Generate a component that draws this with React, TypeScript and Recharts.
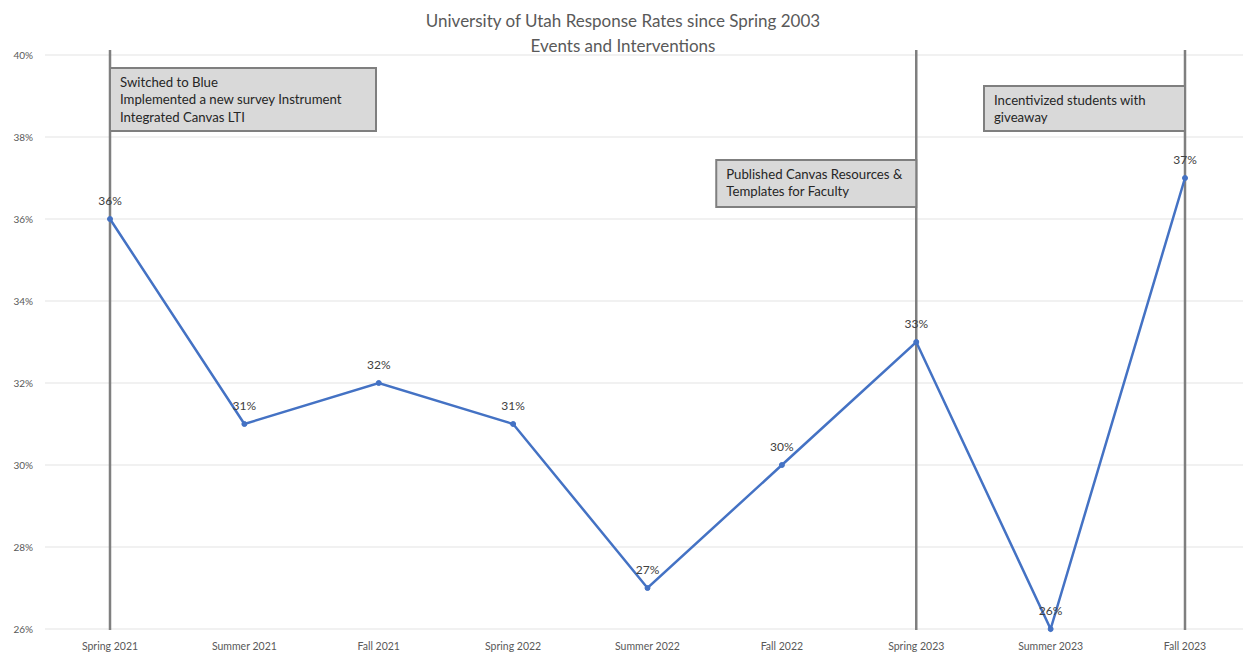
import React from 'react';
import {
  LineChart,
  Line,
  XAxis,
  YAxis,
  CartesianGrid,
  ReferenceLine,
  LabelList,
} from 'recharts';

const terms = [
  'Spring 2021',
  'Summer 2021',
  'Fall 2021',
  'Spring 2022',
  'Summer 2022',
  'Fall 2022',
  'Spring 2023',
  'Summer 2023',
  'Fall 2023',
];
const responseRates = [36, 31, 32, 31, 27, 30, 33, 26, 37];
const yTicks = [26, 28, 30, 32, 34, 36, 38, 40];

const events = [
  {
    term: 'Spring 2021',
    lines: ['Switched to Blue', 'Implemented a new survey Instrument', 'Integrated Canvas LTI'],
    side: 'right',
    top: 13,
    width: 266,
    height: 63,
  },
  {
    term: 'Spring 2023',
    lines: ['Published Canvas Resources &', 'Templates for Faculty'],
    side: 'left',
    top: 105,
    width: 200,
    height: 47,
  },
  {
    term: 'Fall 2023',
    lines: ['Incentivized students with', 'giveaway'],
    side: 'left',
    top: 31,
    width: 201,
    height: 45,
  },
];

const data = terms.map((term, i) => ({ term, rate: responseRates[i] }));

const FONT = 'Lato, "Open Sans", sans-serif';

function EventBox(props: any) {
  const { viewBox, lines, side, top, width, height } = props;
  if (!viewBox) return null;
  const x = side === 'right' ? viewBox.x : viewBox.x - width;
  const y = viewBox.y + top;
  return (
    <g>
      <rect x={x} y={y} width={width} height={height} fill="#d9d9d9" stroke="#7f7f7f" strokeWidth={2} />
      {lines.map((line: string, i: number) => (
        <text
          key={i}
          x={x + 10}
          y={y + 18.5 + i * 17.5}
          fontSize={13.2}
          fontFamily={FONT}
          fill="#262626"
        >
          {line}
        </text>
      ))}
    </g>
  );
}

function EventLine(props: any) {
  const { x1, y1, x2, y2 } = props;
  return <line x1={x1} y1={Math.min(y1, y2) - 5} x2={x2} y2={Math.max(y1, y2) + 1} stroke="#7f7f7f" strokeWidth={2.5} />;
}

export default function App() {
  return (
    <div style={{ position: 'absolute', left: 0, top: 0, width: 1251, height: 654, background: '#fff' }}>
      <div
        style={{
          position: 'absolute',
          left: 0,
          top: 8,
          width: 1246,
          textAlign: 'center',
          fontFamily: FONT,
          fontSize: 17,
          lineHeight: '25px',
          color: '#595959',
        }}
      >
        University of Utah Response Rates since Spring 2003
        <br />
        Events and Interventions
      </div>
      <LineChart width={1251} height={654} data={data} margin={{ top: 55, right: 8, bottom: 0, left: 0 }}>
        <CartesianGrid vertical={false} stroke="#e3e3e3" />
        <XAxis
          dataKey="term"
          height={25}
          padding={{ left: 65, right: 58 }}
          tickLine={false}
          axisLine={false}
          tickMargin={8}
          tick={{ fontSize: 10.5, fill: '#595959', fontFamily: FONT }}
          interval={0}
        />
        <YAxis
          width={45}
          domain={[26, 40]}
          ticks={yTicks}
          tickLine={false}
          axisLine={false}
          tickMargin={6}
          tickFormatter={(v) => `${v}%`}
          tick={{ fontSize: 10, fill: '#595959', fontFamily: FONT }}
        />
        {events.map((ev) => (
          <ReferenceLine
            key={ev.term}
            x={ev.term}
            shape={<EventLine />}
            label={<EventBox lines={ev.lines} side={ev.side} top={ev.top} width={ev.width} height={ev.height} />}
          />
        ))}
        <Line
          type="linear"
          dataKey="rate"
          stroke="#4472c4"
          strokeWidth={2.5}
          dot={{ r: 2.5, fill: '#4472c4', stroke: '#4472c4', strokeWidth: 1 }}
          isAnimationActive={false}
        >
          <LabelList
            dataKey="rate"
            position="top"
            offset={14}
            formatter={(v: any) => `${v}%`}
            style={{ fontSize: 12, fill: '#404040', fontFamily: FONT }}
          />
        </Line>
      </LineChart>
    </div>
  );
}
